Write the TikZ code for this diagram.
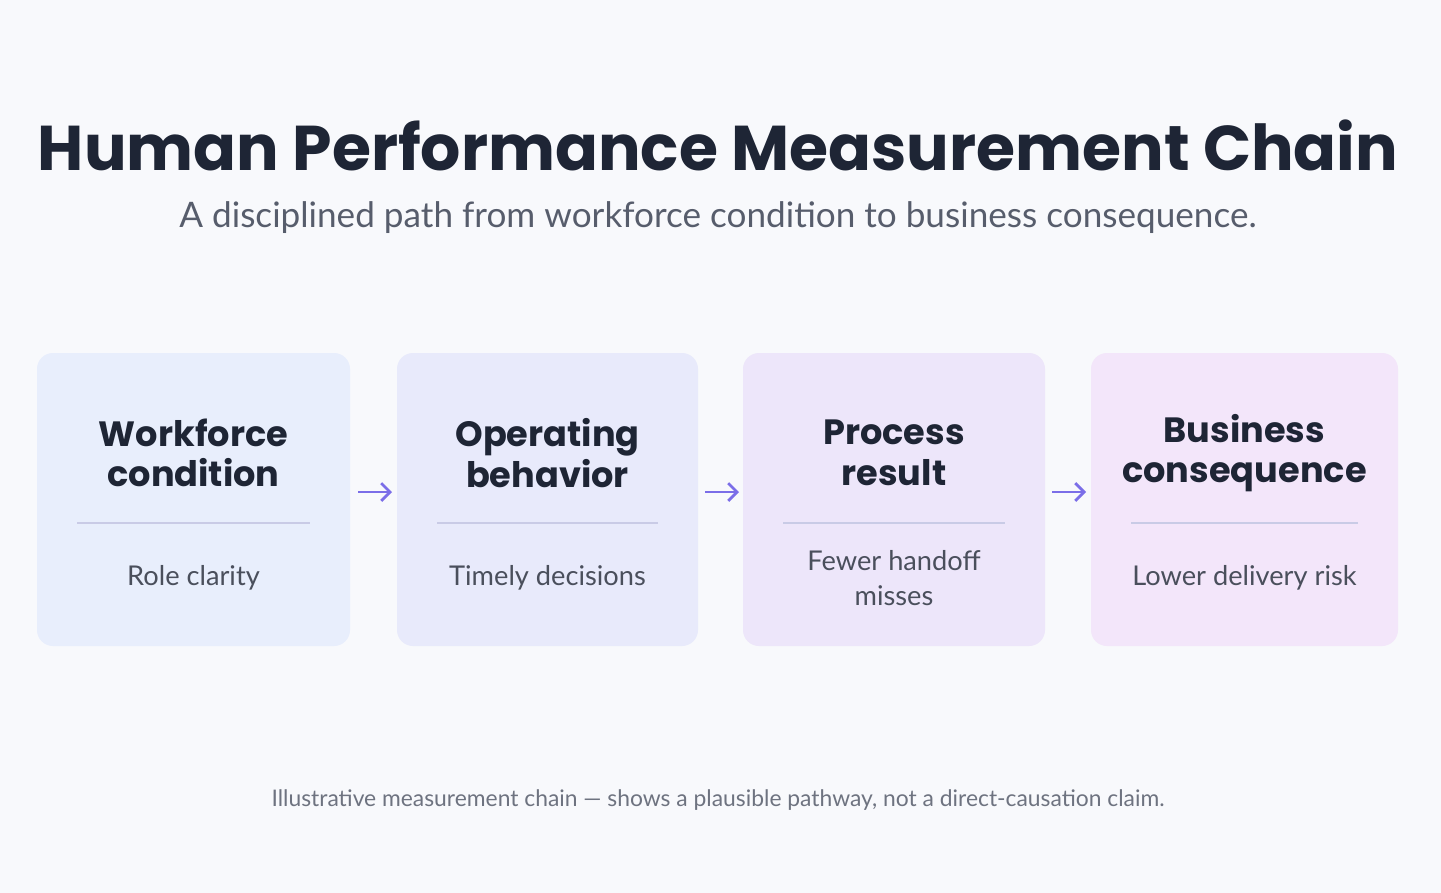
\documentclass[tikz,border=0pt]{standalone}
\usepackage{fontspec}
\setmainfont{Poppins}
\newfontfamily\bodyfont{Lato}
\usetikzlibrary{arrows.meta,positioning}
\definecolor{bgcol}{HTML}{F8F9FC}
\definecolor{inkcol}{HTML}{1E2535}
\definecolor{subcol}{HTML}{575D6C}
\definecolor{footcol}{HTML}{6E7380}
\definecolor{arrcol}{HTML}{7B6EE8}
\definecolor{rulecol}{HTML}{C9CBE6}
\definecolor{boxa}{HTML}{E8EEFC}
\definecolor{boxb}{HTML}{E8EAFB}
\definecolor{boxc}{HTML}{EDE6FA}
\definecolor{boxd}{HTML}{F3E6FA}
\tikzset{
  stage/.style={rounded corners=0.32cm, inner sep=0pt},
  head/.style={font=\fontsize{20}{23}\selectfont\bfseries, text=inkcol, align=center},
  body/.style={font=\bodyfont\fontsize{15.5}{20}\selectfont, text=subcol!85!black, align=center},
  link/.style={-{Straight Barb[length=5pt,width=10pt]}, line width=1.6pt, draw=arrcol},
}
\begin{document}
\begin{tikzpicture}[x=0.02cm,y=-0.02cm]
\fill[bgcol] (0,0) rectangle (1441,893);
\node[font=\fontsize{36}{40}\selectfont\bfseries, text=inkcol] (title) at (718,145) {Human Performance Measurement Chain};
\node[font=\bodyfont\fontsize{20}{24}\selectfont, text=subcol] (sub) at (718,218) {A disciplined path from workforce condition to business consequence.};

% stages
\foreach \n/\xa/\xb/\col/\ha/\hb/\txt in {
  1/37/350/boxa/Workforce/condition/{Role clarity},
  2/397/698/boxb/Operating/behavior/{Timely decisions},
  3/743/1045/boxc/Process/result/{Fewer handoff\\misses},
  4/1091/1398/boxd/Business/consequence/{Lower delivery risk}}{
  \fill[\col, stage] (\xa,353) rectangle (\xb,646);
  \node[head] (h\n) at ({(\xa+\xb)/2},453) {\ha\\\hb};
  \draw[rulecol, line width=0.6pt] ({\xa+40},523) -- ({\xb-40},523);
  \node[body] (b\n) at ({(\xa+\xb)/2},578) {\txt};
}
\coordinate (a1) at (358,492); \coordinate (a2) at (392,492);
\coordinate (a3) at (705,492); \coordinate (a4) at (739,492);
\coordinate (a5) at (1052,492); \coordinate (a6) at (1086,492);
\draw[link] (a1) -- (a2);
\draw[link] (a3) -- (a4);
\draw[link] (a5) -- (a6);

\node[font=\bodyfont\fontsize{13}{16}\selectfont, text=footcol] (foot) at (718,800) {Illustrative measurement chain — shows a plausible pathway, not a direct-causation claim.};
\end{tikzpicture}
\end{document}
